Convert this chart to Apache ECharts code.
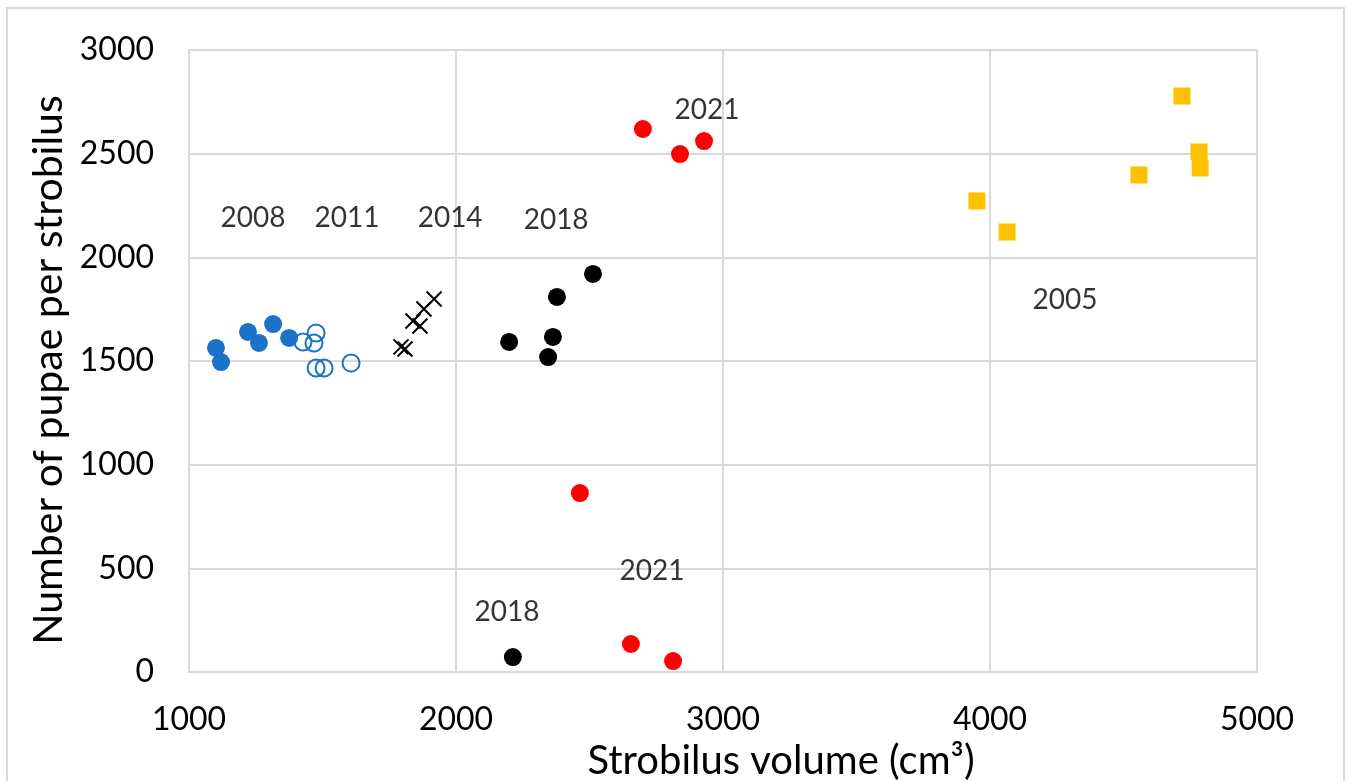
<!DOCTYPE html>
<html>
<head>
<meta charset="utf-8">
<title>Pupae per strobilus</title>
<script src="https://cdn.jsdelivr.net/npm/echarts@6/dist/echarts.min.js"></script>
<style>
  html, body { margin: 0; padding: 0; background: #fff; }
  #chart { width: 1348px; height: 781px; }
</style>
</head>
<body>
<div id="chart"></div>
<script>
// values: strobilus volume (cm3) and pupae count
const blueFilledX = [1101, 1120, 1221, 1262, 1315, 1375]
const blueFilledY = [1563, 1495, 1640, 1587, 1678, 1611]
const blueOpenX = [1427, 1476, 1468, 1476, 1506, 1607]
const blueOpenY = [1592, 1635, 1587, 1466, 1466, 1490]
const crossX = [1794, 1809, 1839, 1865, 1880, 1918]
const crossY = [1568, 1558, 1693, 1669, 1751, 1799]
const blackX = [2199, 2363, 2345, 2378, 2513, 2213]
const blackY = [1592, 1616, 1519, 1809, 1920, 72]
const redX = [2700, 2839, 2929, 2464, 2655, 2813]
const redY = [2619, 2498, 2561, 863, 135, 53]
const yellowX = [4719, 4783, 4787, 4558, 3951, 4064]
const yellowY = [2778, 2508, 2431, 2397, 2272, 2122]

// year annotations, placed in data units
const yearText = ['2008', '2011', '2014', '2018', '2021', '2005', '2021', '2018']
const yearX = [1240, 1592, 1978, 2375, 2940, 4281, 2734, 2191]
const yearY = [2190, 2190, 2190, 2180, 2711, 1794, 487, 289]

const xTicks = { min: 1000, max: 5000, interval: 1000 }
const yTicks = { min: 0, max: 3000, interval: 500 }

const FONT = 'Lato'
const BLUE = '#1a73c8'

function pairs(xs, ys) {
  return xs.map((x, i) => [x, ys[i]])
}

const chart = echarts.init(document.getElementById('chart'))

const gridLine = { lineStyle: { color: '#d9d9d9', width: 2 } }

chart.setOption({
  animation: false,
  textStyle: { fontFamily: FONT },
  graphic: [{
    type: 'rect',
    shape: { x: 7, y: 8, width: 1337, height: 785 },
    style: { fill: 'none', stroke: '#d9d9d9', lineWidth: 2 }
  }],
  grid: { left: 189, right: 91, top: 50, bottom: 109, outerBoundsMode: 'none' },
  xAxis: {
    type: 'value',
    min: xTicks.min,
    max: xTicks.max,
    interval: xTicks.interval,
    name: 'Strobilus volume (cm³)',
    nameLocation: 'middle',
    nameGap: 62,
    nameTextStyle: { fontSize: 40, color: '#000', fontFamily: FONT, padding: [0, 0, 0, 116] },
    axisLine: { show: true, lineStyle: { color: '#d9d9d9', width: 2 } },
    axisTick: { show: false },
    axisLabel: { fontSize: 32, color: '#000', margin: 32, fontFamily: FONT, formatter: v => String(v) },
    splitLine: gridLine
  },
  yAxis: {
    type: 'value',
    min: yTicks.min,
    max: yTicks.max,
    interval: yTicks.interval,
    name: 'Number of pupae per strobilus',
    nameLocation: 'middle',
    nameGap: 120,
    nameTextStyle: { fontSize: 41, color: '#000', fontFamily: FONT, padding: [0, 18, 0, 0] },
    axisLine: { show: true, lineStyle: { color: '#d9d9d9', width: 2 } },
    axisTick: { show: false },
    axisLabel: { fontSize: 32, color: '#000', margin: 35, fontFamily: FONT, formatter: v => String(v) },
    splitLine: gridLine
  },
  series: [
    {
      name: 'blue filled',
      type: 'scatter',
      symbol: 'circle',
      symbolSize: 18,
      itemStyle: { color: BLUE, opacity: 1 },
      data: pairs(blueFilledX, blueFilledY)
    },
    {
      name: 'blue open',
      type: 'scatter',
      symbol: 'circle',
      symbolSize: 17,
      itemStyle: { color: 'rgba(255,255,255,0)', borderColor: BLUE, borderWidth: 2, opacity: 1 },
      data: pairs(blueOpenX, blueOpenY)
    },
    {
      name: 'cross',
      type: 'scatter',
      symbol: 'path://M0,0L10,10M10,0L0,10',
      symbolSize: 15,
      itemStyle: { color: 'none', borderColor: '#000', borderWidth: 2, opacity: 1 },
      data: pairs(crossX, crossY)
    },
    {
      name: 'black',
      type: 'scatter',
      symbol: 'circle',
      symbolSize: 18,
      itemStyle: { color: '#000', opacity: 1 },
      data: pairs(blackX, blackY)
    },
    {
      name: 'red',
      type: 'scatter',
      symbol: 'circle',
      symbolSize: 18,
      itemStyle: { color: '#ff0000', opacity: 1 },
      data: pairs(redX, redY)
    },
    {
      name: 'yellow',
      type: 'scatter',
      symbol: 'rect',
      symbolSize: 17,
      itemStyle: { color: '#ffc000', opacity: 1 },
      data: pairs(yellowX, yellowY)
    },
    {
      name: 'years',
      type: 'scatter',
      symbolSize: 0,
      silent: true,
      label: {
        show: true,
        position: 'inside',
        formatter: p => p.name,
        fontSize: 28,
        color: '#000',
        fontFamily: FONT
      },
      data: yearText.map((t, i) => ({ name: t, value: [yearX[i], yearY[i]] }))
    }
  ]
})
</script>
</body>
</html>
